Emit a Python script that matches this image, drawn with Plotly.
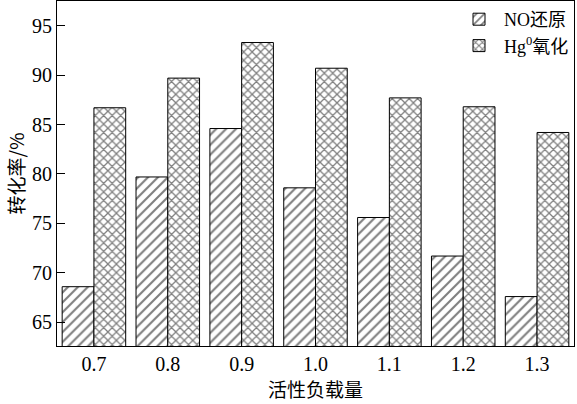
import plotly.graph_objects as go

categories = ["0.7", "0.8", "0.9", "1.0", "1.1", "1.2", "1.3"]
no_reduction = [68.6, 79.7, 84.6, 78.6, 75.6, 71.7, 67.6]
hg_oxidation = [86.7, 89.7, 93.3, 90.7, 87.7, 86.8, 84.2]
y_ticks = [65, 70, 75, 80, 85, 90, 95]

FONT = "Liberation Serif, Times New Roman, Noto Sans CJK SC, serif"

fig = go.Figure()
fig.add_trace(go.Bar(
    x=categories, y=no_reduction, name="NO还原",
    marker=dict(color="white", line=dict(color="black", width=1),
                pattern=dict(shape="/", fgcolor="black", bgcolor="white", size=7, solidity=0.3)),
))
fig.add_trace(go.Bar(
    x=categories, y=hg_oxidation, name="Hg<sup>0</sup>氧化",
    marker=dict(color="white", line=dict(color="black", width=1),
                pattern=dict(shape="x", fgcolor="black", bgcolor="white", size=6, solidity=0.38)),
))

fig.update_layout(
    width=577, height=404,
    margin=dict(l=57, r=3, t=1, b=58),
    paper_bgcolor="white", plot_bgcolor="white",
    barmode="group", bargap=0.14, bargroupgap=0,
    font=dict(family=FONT, size=20, color="black"),
    showlegend=True,
    legend=dict(x=1, y=1, xanchor="right", yanchor="top", bgcolor="white",
                font=dict(size=18), itemwidth=40, tracegroupgap=0,
                borderwidth=0),
    xaxis=dict(showline=True, linecolor="black", linewidth=1, mirror=True,
               ticks="", tickfont=dict(size=20),
               title=dict(text="活性负载量", font=dict(size=19, family="Noto Sans CJK SC"), standoff=2)),
    yaxis=dict(range=[62.6, 97.5], tickvals=y_ticks, showline=True, linecolor="black",
               linewidth=1, mirror=True, ticks="inside", ticklen=8, tickcolor="black",
               showgrid=False, zeroline=False, tickfont=dict(size=20),
               title=dict(text="转化率/%", font=dict(size=19, family="Noto Sans CJK SC"), standoff=2)),
)

fig.write_html("out.html", config={"displayModeBar": False},
               post_script="document.body.style.margin='0';")
